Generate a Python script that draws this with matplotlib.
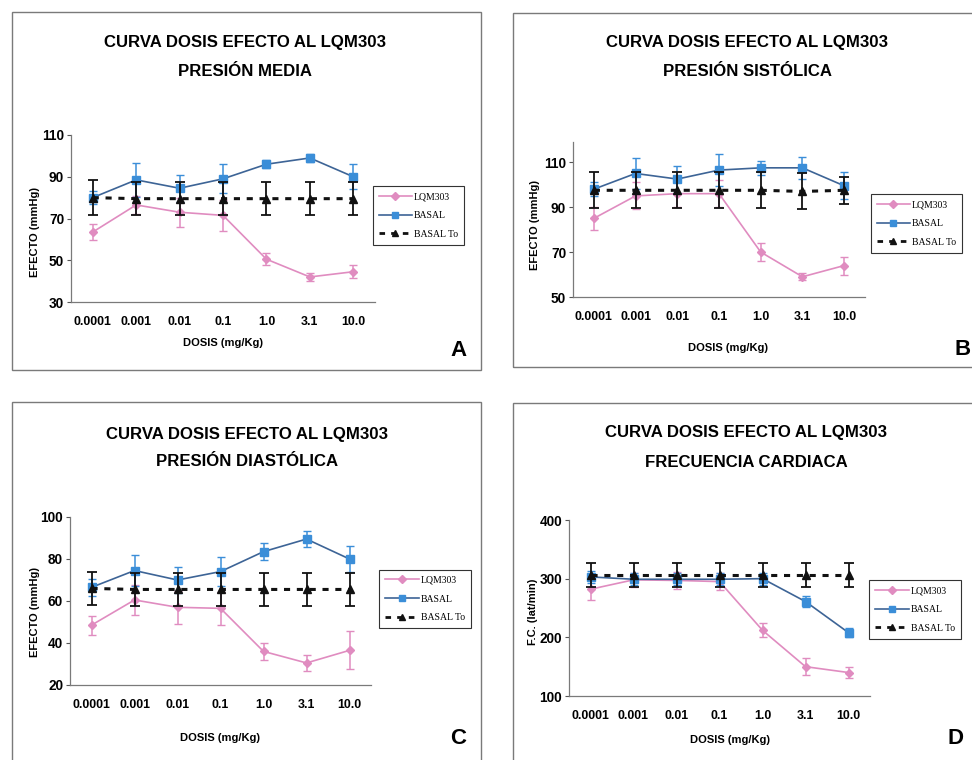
import matplotlib
matplotlib.use("Agg")
import matplotlib.pyplot as plt
from matplotlib.patches import Rectangle
from matplotlib.lines import Line2D

# ---- data -------------------------------------------------------------
doses = ["0.0001", "0.001", "0.01", "0.1", "1.0", "3.1", "10.0"]
series_names = ["LQM303", "BASAL", "BASAL To"]

# A: presión media
lqm_a = [63.5, 76.5, 73.0, 71.5, 50.5, 42.0, 44.5]
lqm_a_err = [4.0, 4.5, 7.0, 7.5, 3.0, 2.0, 3.0]
basal_a = [80.0, 88.5, 84.5, 89.0, 96.0, 99.0, 90.0]
basal_a_err = [3.0, 8.0, 6.5, 7.0, 2.0, 2.0, 6.0]
to_a = [80.0, 79.5, 79.5, 79.5, 79.5, 79.5, 79.5]
to_a_err = [8.5, 8.0, 8.0, 8.0, 8.0, 8.0, 8.0]

# B: presión sistólica
lqm_b = [85.0, 95.0, 96.0, 96.0, 70.0, 59.0, 64.0]
lqm_b_err = [5.0, 6.0, 6.0, 6.0, 4.0, 1.5, 4.0]
basal_b = [98.0, 105.0, 102.5, 106.5, 107.5, 107.5, 99.5]
basal_b_err = [3.0, 7.0, 6.0, 7.0, 3.0, 5.0, 6.0]
to_b = [97.5, 97.5, 97.5, 97.5, 97.5, 97.0, 97.5]
to_b_err = [8.0, 8.0, 8.0, 8.0, 8.0, 8.0, 6.0]

# C: presión diastólica
lqm_c = [48.5, 60.5, 57.0, 56.5, 36.0, 30.5, 36.5]
lqm_c_err = [4.5, 7.0, 8.0, 8.0, 4.0, 4.0, 9.0]
basal_c = [66.5, 74.5, 70.0, 74.0, 83.5, 89.5, 80.0]
basal_c_err = [4.0, 7.5, 6.0, 7.0, 4.0, 4.0, 6.0]
to_c = [66.0, 65.5, 65.5, 65.5, 65.5, 65.5, 65.5]
to_c_err = [8.0, 8.0, 8.0, 8.0, 8.0, 8.0, 8.0]

# D: frecuencia cardiaca
lqm_d = [282.0, 298.0, 297.0, 295.0, 212.0, 150.0, 140.0]
lqm_d_err = [18.0, 12.0, 15.0, 15.0, 12.0, 15.0, 10.0]
basal_d = [303.0, 299.0, 299.0, 299.0, 300.0, 261.0, 208.0]
basal_d_err = [10.0, 10.0, 10.0, 10.0, 10.0, 10.0, 8.0]
to_d = [306.0, 306.0, 306.0, 306.0, 306.0, 306.0, 306.0]
to_d_err = [20.0, 20.0, 20.0, 20.0, 20.0, 20.0, 20.0]

title_main = "CURVA DOSIS EFECTO AL LQM303"
subtitles = ["PRESIÓN MEDIA", "PRESIÓN SISTÓLICA", "PRESIÓN DIASTÓLICA", "FRECUENCIA CARDIACA"]
ylabels = ["EFECTO (mmHg)", "EFECTO (mmHg)", "EFECTO (mmHg)", "F.C. (lat/min)"]
xlabel = "DOSIS (mg/Kg)"
letters = ["A", "B", "C", "D"]

# ---- fonts -------------------------------------------------------------
SANS = ["Liberation Sans", "DejaVu Sans"]
SERIF = ["Liberation Serif", "DejaVu Serif"]

# ---- colours -----------------------------------------------------------
PINK = "#e08cc0"
BLUE_M = "#3b8ed8"
BLUE_L = "#3d6496"
BLACK = "#111111"

W, H = 972, 760
fig = plt.figure(figsize=(W / 100, H / 100), dpi=100)
fig.patch.set_facecolor("white")
renderer = fig.canvas.get_renderer()


def fx(x):
    return x / W


def fy(y):
    return 1 - y / H


def add_axes_px(x0, y0, x1, y1):
    return fig.add_axes([fx(x0), fy(y1), (x1 - x0) / W, (y1 - y0) / H])


def size_for(text, target_px, weight="bold", family=SANS, vertical=False):
    """Font size at which `text` spans target_px pixels."""
    t = fig.text(0, 0, text, fontsize=10, fontweight=weight, fontfamily=family)
    bb = t.get_window_extent(renderer)
    t.remove()
    return 10 * target_px / bb.width


TITLE_FS = size_for(title_main, 282)
TICK_FS = size_for("0.0001", 38)
YTICK_FS = size_for("110", 22)
LABEL_FS = size_for(xlabel, 80)
LEG_FS = size_for("BASAL To", 44, weight="normal", family=SERIF)

panels = [
    dict(box=(12, 12, 481, 370), ax=(71, 135, 375, 302), ylim=(30, 110), yticks=[30, 50, 70, 90, 110],
         data=(lqm_a, lqm_a_err, basal_a, basal_a_err, to_a, to_a_err),
         t1=(245, 42), t2=(245, 72), xl=(223, 343), yl=(35, 232), let=(458, 350),
         leg=(372, 183, 465, 248)),
    dict(box=(513, 13, 975, 367), ax=(573, 142, 865, 297), ylim=(50, 119), yticks=[50, 70, 90, 110],
         data=(lqm_b, lqm_b_err, basal_b, basal_b_err, to_b, to_b_err),
         t1=(747, 42), t2=(747, 72), xl=(728, 348), yl=(535, 225), let=(963, 349),
         leg=(865, 190, 968, 257)),
    dict(box=(12, 402, 481, 765), ax=(70, 517, 371, 685), ylim=(20, 100), yticks=[20, 40, 60, 80, 100],
         data=(lqm_c, lqm_c_err, basal_c, basal_c_err, to_c, to_c_err),
         t1=(247, 435), t2=(247, 462), xl=(220, 738), yl=(35, 612), let=(458, 738),
         leg=(370, 568, 480, 630)),
    dict(box=(513, 403, 975, 765), ax=(569, 520, 870, 696), ylim=(100, 400), yticks=[100, 200, 300, 400],
         data=(lqm_d, lqm_d_err, basal_d, basal_d_err, to_d, to_d_err),
         t1=(746, 432), t2=(746, 463), xl=(730, 740), yl=(533, 612), let=(955, 738),
         leg=(870, 577, 960, 642)),
]

x = list(range(len(doses)))

for i, p in enumerate(panels):
    bx0, by0, bx1, by1 = p["box"]
    fig.add_artist(Rectangle((fx(bx0), fy(by1)), (bx1 - bx0) / W, (by1 - by0) / H,
                             transform=fig.transFigure, fill=False, edgecolor="#7a7a7a", lw=1.0))

    ax = add_axes_px(*p["ax"])
    ax.set_facecolor("none")
    lq, lqe, ba, bae, to, toe = p["data"]

    ax.errorbar(x, lq, yerr=lqe, color=PINK, ecolor=PINK, lw=1.2, elinewidth=1.1, capsize=3,
                marker="D", ms=4.5, mfc=PINK, mec=PINK, zorder=3)
    ax.errorbar(x, ba, yerr=bae, color=BLUE_L, ecolor=BLUE_M, lw=1.2, elinewidth=1.1, capsize=3,
                marker="s", ms=6, mfc=BLUE_M, mec=BLUE_M, zorder=4)
    ax.errorbar(x, to, yerr=toe, color=BLACK, ecolor=BLACK, lw=2.2, ls=(0, (2.0, 2.2)),
                elinewidth=1.3, capsize=3.5, capthick=1.3,
                marker="^", ms=5.5, mfc=BLACK, mec=BLACK, zorder=5)

    ax.set_xlim(-0.5, len(doses) - 0.5)
    ax.set_ylim(*p["ylim"])
    ax.set_yticks(p["yticks"])
    ax.set_xticks(x)
    ax.set_xticklabels(doses, fontfamily=SANS, fontweight="bold", fontsize=TICK_FS)
    ax.set_yticklabels([str(v) for v in p["yticks"]], fontfamily=SANS, fontweight="bold",
                       fontsize=YTICK_FS)
    ax.tick_params(axis="x", length=0, pad=10)
    ax.tick_params(axis="y", length=3, width=0.8, color="#555555", pad=2)
    for s in ("top", "right"):
        ax.spines[s].set_visible(False)
    for s in ("left", "bottom"):
        ax.spines[s].set_color("#7a7a7a")
        ax.spines[s].set_linewidth(0.9)

    fig.text(fx(p["t1"][0]), fy(p["t1"][1]), title_main, ha="center", va="center",
             fontfamily=SANS, fontweight="bold", fontsize=TITLE_FS)
    fig.text(fx(p["t2"][0]), fy(p["t2"][1]), subtitles[i], ha="center", va="center",
             fontfamily=SANS, fontweight="bold", fontsize=TITLE_FS)
    fig.text(fx(p["xl"][0]), fy(p["xl"][1]), xlabel, ha="center", va="center",
             fontfamily=SANS, fontweight="bold", fontsize=LABEL_FS)
    fig.text(fx(p["yl"][0]), fy(p["yl"][1]), ylabels[i], ha="center", va="center", rotation=90,
             fontfamily=SANS, fontweight="bold", fontsize=LABEL_FS)
    fig.text(fx(p["let"][0]), fy(p["let"][1]), letters[i], ha="center", va="center",
             fontfamily=SANS, fontweight="bold", fontsize=16)

    # legend
    lx0, ly0, lx1, ly1 = p["leg"]
    handles = [
        Line2D([], [], color=PINK, lw=1.2, marker="D", ms=4, mfc=PINK, mec=PINK),
        Line2D([], [], color=BLUE_L, lw=1.2, marker="s", ms=5, mfc=BLUE_M, mec=BLUE_M),
        Line2D([], [], color=BLACK, lw=2.0, ls=(0, (2.0, 2.2)), marker="^", ms=5, mfc=BLACK, mec=BLACK),
    ]
    leg = fig.legend(handles, series_names, loc="center",
                     bbox_to_anchor=(fx((lx0 + lx1) / 2), fy((ly0 + ly1) / 2)),
                     prop=dict(family=SERIF, size=LEG_FS), frameon=True, fancybox=False,
                     edgecolor="#333333", framealpha=1, handlelength=3.4, handletextpad=0.2,
                     borderpad=0.6, labelspacing=1.0, borderaxespad=0)
    leg.get_frame().set_linewidth(0.8)

fig.savefig("out.png", dpi=100, facecolor="white")
